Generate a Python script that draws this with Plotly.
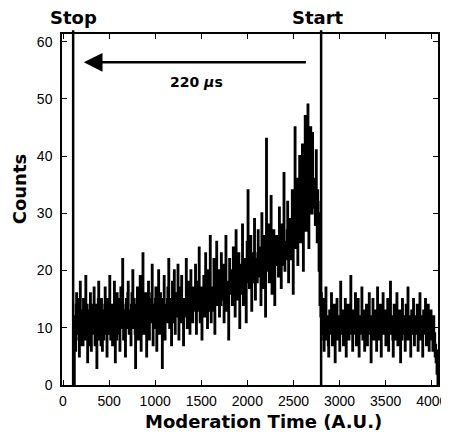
import plotly.graph_objects as go

# ---- data ----
channel_start = 120
channel_step = 5
counts_rise = [
    0,
    12, 9, 6, 14, 16, 11, 9, 15, 14, 8, 5, 12, 18, 7, 10, 13, 13, 10, 7, 15,
    15, 10, 8, 13, 19, 9, 11, 14, 4, 10, 13, 7, 9, 12, 16, 11, 6, 14, 12, 9,
    10, 13, 17, 9, 7, 12, 14, 10, 3, 11, 12, 15, 18, 9, 8, 12, 11, 7, 15, 11,
    6, 11, 13, 8, 9, 14, 17, 10, 11, 13, 5, 12, 15, 9, 10, 14, 19, 11, 8, 13,
    14, 10, 7, 12, 12, 9, 18, 11, 4, 13, 11, 8, 16, 12, 9, 15, 13, 10, 6, 12,
    17, 11, 10, 14, 22, 12, 8, 13, 13, 9, 5, 14, 15, 10, 11, 16, 18, 12, 9, 13,
    12, 9, 7, 14, 16, 11, 20, 12, 10, 15, 14, 9, 3, 12, 13, 10, 17, 13, 8, 14,
    11, 14, 19, 10, 6, 13, 14, 11, 23, 12, 9, 15, 13, 10, 16, 12, 5, 13, 12, 9,
    18, 12, 8, 14, 15, 11, 11, 16, 21, 12, 7, 14, 14, 10, 10, 15, 17, 12, 6, 13,
    13, 10, 20, 14, 9, 13, 16, 11, 12, 15, 3, 12, 15, 11, 19, 13, 8, 14, 14, 11,
    11, 15, 17, 12, 22, 13, 10, 14, 15, 12, 7, 13, 18, 11, 12, 16, 20, 13, 9, 14,
    16, 12, 13, 15, 21, 14, 8, 13, 17, 12, 11, 16, 19, 13, 14, 11, 7, 15, 15, 12,
    12, 15, 22, 13, 10, 16, 18, 12, 14, 17, 9, 14, 20, 13, 16, 12, 11, 15, 17, 14,
    13, 16, 21, 14, 9, 15, 18, 13, 15, 17, 24, 14, 11, 16, 17, 13, 8, 15, 16, 12,
    19, 14, 12, 16, 23, 15, 14, 17, 10, 15, 20, 13, 16, 18, 26, 14, 11, 16, 17, 13,
    13, 17, 22, 15, 9, 16, 18, 14, 25, 17, 14, 18, 20, 15, 12, 17, 17, 14, 23, 16,
    15, 18, 21, 16, 11, 17, 19, 15, 26, 18, 13, 17, 18, 14, 8, 16, 22, 17, 16, 19,
    20, 16, 14, 19, 24, 17, 17, 21, 12, 18, 27, 16, 19, 15, 15, 20, 23, 17, 10, 18,
    21, 17, 16, 20, 28, 18, 14, 19, 22, 16, 18, 21, 11, 19, 25, 18, 34, 20, 24, 17,
    17, 21, 26, 19, 13, 20, 23, 18, 20, 22, 29, 19, 15, 21, 22, 18, 18, 23, 27, 20,
    19, 22, 24, 20, 14, 21, 30, 19, 21, 24, 17, 22, 26, 20, 12, 21, 43, 22, 20, 23,
    28, 21, 18, 23, 25, 20, 33, 22, 16, 24, 22, 19, 27, 23, 14, 21, 24, 26, 21, 23,
    26, 22, 19, 24, 31, 23, 22, 27, 17, 23, 28, 21, 24, 26, 37, 24, 20, 25, 25, 22,
    23, 27, 32, 24, 18, 26, 27, 23, 29, 25, 22, 28, 34, 25, 16, 26, 26, 29, 45, 27,
    24, 29, 36, 27, 21, 28, 29, 32, 40, 28, 25, 30, 31, 27, 42, 29, 20, 28, 38, 30,
    47, 31, 27, 33, 35, 29, 49, 32, 24, 31, 38, 30, 45, 33, 30, 35, 44, 31, 33, 36,
    36, 30, 28, 33, 41, 31, 25, 34, 32, 28, 20, 30, 14, 22, 12,
]
counts_after_start = [
    16, 10, 9, 12, 15, 8, 6, 11, 12, 9, 17, 11, 8, 12, 11, 7, 5, 10, 13, 9,
    9, 12, 16, 10, 7, 11, 11, 8, 14, 10, 4, 9, 10, 13, 15, 9, 8, 11, 12, 10,
    6, 10, 18, 11, 9, 12, 13, 9, 7, 10, 11, 8, 15, 10, 5, 11, 10, 12, 14, 9,
    8, 11, 12, 9, 19, 10, 9, 12, 6, 10, 13, 9, 10, 11, 16, 9, 7, 12, 11, 8,
    15, 10, 5, 9, 12, 11, 9, 12, 17, 10, 8, 11, 13, 9, 6, 10, 10, 12, 14, 9,
    7, 10, 11, 12, 16, 9, 9, 11, 4, 10, 12, 9, 15, 11, 8, 12, 13, 10, 10, 8,
    6, 11, 17, 10, 11, 9, 8, 12, 14, 10, 5, 9, 12, 11, 16, 10, 9, 12, 13, 9,
    7, 11, 10, 9, 15, 12, 6, 10, 12, 9, 18, 11, 9, 12, 11, 8, 5, 10, 14, 11,
    8, 10, 12, 9, 16, 11, 7, 10, 10, 12, 13, 9, 4, 10, 11, 8, 15, 11, 9, 12,
    12, 9, 6, 10, 14, 11, 10, 8, 17, 11, 8, 12, 11, 9, 5, 10, 13, 11, 10, 9,
    15, 10, 7, 11, 12, 9, 9, 12, 14, 10, 6, 10, 11, 9, 16, 11, 8, 12, 12, 9,
    5, 10, 13, 9, 9, 11, 15, 10, 7, 12, 11, 9, 14, 10, 6, 11, 10, 9, 13, 10,
    8, 11, 6, 9, 12, 7, 9, 5, 7, 4, 6, 2, 3, 0,
]
counts = counts_rise + counts_after_start
channels = [channel_start + i * channel_step for i in range(len(counts))]

x_ticks = [0, 500, 1000, 1500, 2000, 2500, 3000, 3500, 4000]
y_ticks = [0, 10, 20, 30, 40, 50, 60]
stop_time = 110
start_time = 2800
arrow_head_x = 225
arrow_tail_x = 2651
arrow_y = 56.4
label_text = "220 <i>μ</i>s"

fig = go.Figure()
fig.add_trace(go.Scatter(
    x=channels, y=counts, mode="lines",
    line=dict(color="black", width=2.4, shape="hv", simplify=False), showlegend=False,
    hoverinfo="skip",
))

for t, name, shift in [(stop_time, "Stop", 0), (start_time, "Start", -3)]:
    fig.add_shape(type="line", xref="x", yref="paper", x0=t, x1=t, y0=0, y1=1.011,
                  line=dict(color="black", width=2.5))
    fig.add_annotation(x=t, y=1.011, xref="x", yref="paper", text="<b>%s</b>" % name,
                       showarrow=False, yanchor="bottom", xanchor="center", xshift=shift,
                       font=dict(family="DejaVu Sans", size=18, color="black"))

fig.add_annotation(x=arrow_head_x, y=arrow_y, ax=arrow_tail_x, ay=arrow_y,
                   xref="x", yref="y", axref="x", ayref="y", text="",
                   showarrow=True, arrowhead=2, arrowsize=1.5, arrowwidth=2.5,
                   arrowcolor="black")
fig.add_annotation(x=1450, y=53, xref="x", yref="y", text="<b>%s</b>" % label_text,
                   showarrow=False, xanchor="center", yanchor="middle",
                   font=dict(family="DejaVu Sans", size=14, color="black"))

fig.add_annotation(x=-0.114, y=0.558, xref="paper", yref="paper", text="<b>Counts</b>",
                   textangle=-90, showarrow=False, xanchor="center", yanchor="middle",
                   font=dict(family="DejaVu Sans", size=18, color="black"))
fig.add_annotation(x=0.536, y=-0.105, xref="paper", yref="paper",
                   text="<b>Moderation Time (A.U.)</b>", showarrow=False,
                   xanchor="center", yanchor="middle",
                   font=dict(family="DejaVu Sans", size=18, color="black"))

axis_common = dict(showline=True, linecolor="black", linewidth=1.5, mirror="ticks",
                   ticks="inside", ticklen=5, tickwidth=1, tickcolor="black",
                   showgrid=False, zeroline=False, automargin=False,
                   tickfont=dict(family="Liberation Sans", size=14, color="black"))
fig.update_xaxes(range=[-11, 4068], tickvals=x_ticks, ticklabelstandoff=2, **axis_common)
fig.update_yaxes(range=[0, 61.35], tickvals=y_ticks, ticklabelstandoff=5, **axis_common)

# page body adds an 8px offset, so the figure is sized to land the plot where the reference has it
fig.update_layout(width=441, height=423, margin=dict(l=54, r=11, t=26, b=46, autoexpand=False),
                  plot_bgcolor="white", paper_bgcolor="white")

fig.write_html("out.html")
